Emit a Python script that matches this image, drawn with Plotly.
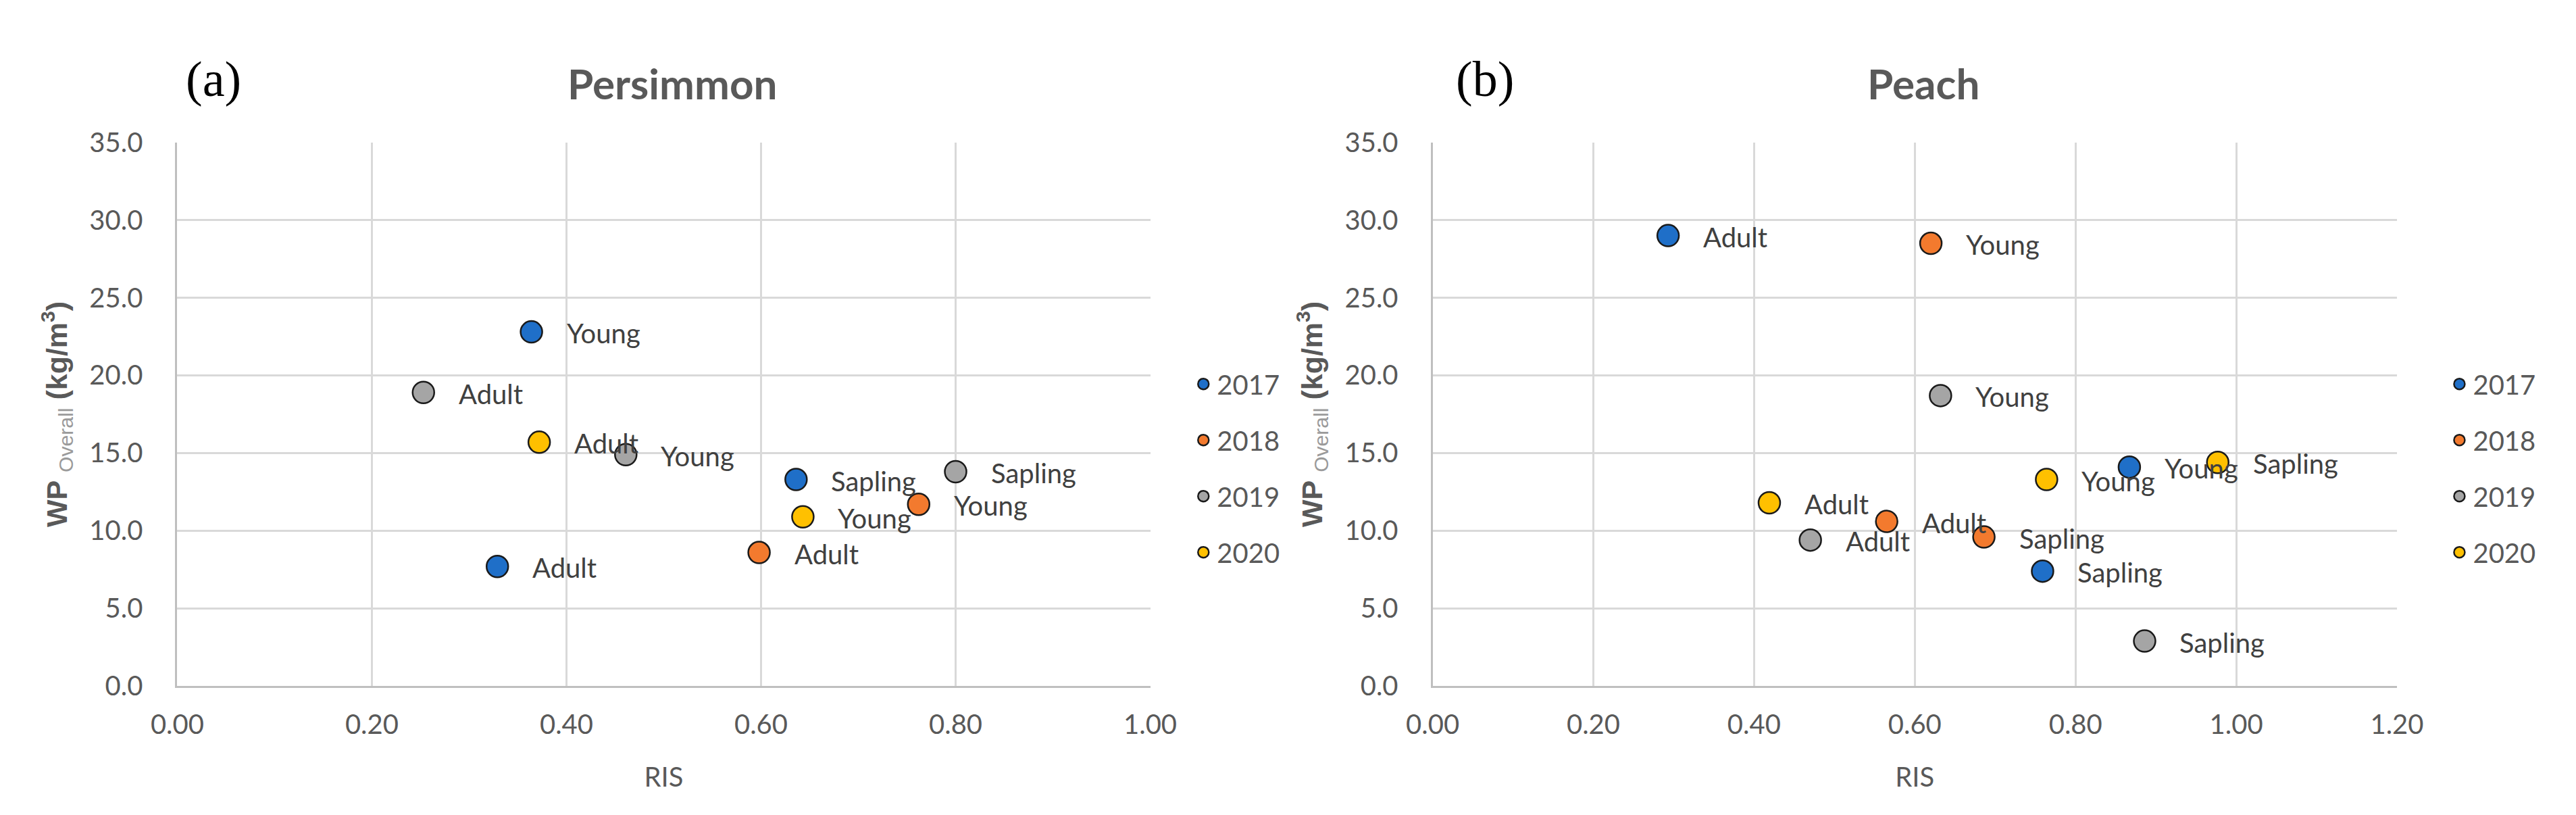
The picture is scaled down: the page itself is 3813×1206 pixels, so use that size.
import plotly.graph_objects as go

# ---------------- data ----------------
years = ["2017", "2018", "2019", "2020"]
year_colors = ["#1F6FC8", "#F37A2E", "#A5A5A5", "#FFC000"]

# Persimmon (panel a)
pers_2017_ris = [0.364, 0.329, 0.636]
pers_2017_wp = [22.8, 7.7, 13.3]
pers_2017_lab = ["Young", "Adult", "Sapling"]
pers_2018_ris = [0.598, 0.762]
pers_2018_wp = [8.6, 11.7]
pers_2018_lab = ["Adult", "Young"]
pers_2019_ris = [0.253, 0.461, 0.800]
pers_2019_wp = [18.9, 14.9, 13.8]
pers_2019_lab = ["Adult", "Young", "Sapling"]
pers_2020_ris = [0.372, 0.643]
pers_2020_wp = [15.7, 10.9]
pers_2020_lab = ["Adult", "Young"]

# Peach (panel b)
peach_2017_ris = [0.293, 0.867, 0.759]
peach_2017_wp = [29.0, 14.1, 7.4]
peach_2017_lab = ["Adult", "Young", "Sapling"]
peach_2018_ris = [0.620, 0.565, 0.686]
peach_2018_wp = [28.5, 10.6, 9.6]
peach_2018_lab = ["Young", "Adult", "Sapling"]
peach_2019_ris = [0.632, 0.470, 0.886]
peach_2019_wp = [18.7, 9.4, 2.9]
peach_2019_lab = ["Young", "Adult", "Sapling"]
peach_2020_ris = [0.419, 0.764, 0.977]
peach_2020_wp = [11.8, 13.3, 14.4]
peach_2020_lab = ["Adult", "Young", "Sapling"]

pers_series = [
    (pers_2017_ris, pers_2017_wp, pers_2017_lab),
    (pers_2018_ris, pers_2018_wp, pers_2018_lab),
    (pers_2019_ris, pers_2019_wp, pers_2019_lab),
    (pers_2020_ris, pers_2020_wp, pers_2020_lab),
]
peach_series = [
    (peach_2017_ris, peach_2017_wp, peach_2017_lab),
    (peach_2018_ris, peach_2018_wp, peach_2018_lab),
    (peach_2019_ris, peach_2019_wp, peach_2019_lab),
    (peach_2020_ris, peach_2020_wp, peach_2020_lab),
]

panel_titles = ["Persimmon", "Peach"]
panel_letters = ["(a)", "(b)"]
x_title = "RIS"
y_title = ("<b>WP</b> <span style='color:#9a9a9a;font-weight:normal'><sub>Overall</sub></span>"
           " <b>(kg/m<sup>3</sup>)</b>")

# ---------------- styling ----------------
W, H = 3813, 1206
FONT = "Lato, Carlito, Calibri, 'Liberation Sans', sans-serif"
TXT = "#595959"
LAB = "#404040"
GRID = "#D9D9D9"
AXL = "#BFBFBF"

fig = go.Figure()

axes = [("x", "y", "legend", pers_series), ("x2", "y2", "legend2", peach_series)]
for xa, ya, lg, series in axes:
    for i, (xs, ys, labs) in enumerate(series):
        fig.add_trace(go.Scatter(
            x=xs, y=ys, mode="markers", name=years[i],
            xaxis=xa, yaxis=ya, legend=lg, legendgroup=lg + years[i],
            marker=dict(size=32, color=year_colors[i],
                        line=dict(color="#1A1A1A", width=2.5)),
            hoverinfo="x+y+name",
        ))
        for xv, yv, lb in zip(xs, ys, labs):
            fig.add_annotation(
                x=xv, y=yv, xref=xa, yref=ya, text=lb, showarrow=False,
                xanchor="left", yanchor="middle", xshift=50, yshift=-2,
                font=dict(family=FONT, size=40, color=LAB),
            )

ydom = [1 - 1023 / H, 1 - 185 / H]
xdom1 = [219 / W, 1690 / W]
xdom2 = [2117 / W, 3575 / W]

common_x = dict(showgrid=True, gridcolor=GRID, gridwidth=3, zeroline=False,
                showline=True, linecolor=AXL, linewidth=3, ticks="",
                dtick=0.2, tick0=0, tickformat=".2f",
                tickfont=dict(family=FONT, size=40, color=TXT),
                ticklabelstandoff=20,
                title=dict(text=x_title, font=dict(family=FONT, size=40, color=TXT),
                           standoff=42))
common_y = dict(showgrid=True, gridcolor=GRID, gridwidth=3, zeroline=False,
                showline=True, linecolor=AXL, linewidth=3, ticks="",
                range=[0, 35], dtick=5, tick0=0, tickformat=".1f",
                tickfont=dict(family=FONT, size=40, color=TXT),
                ticklabelstandoff=40,
                title=dict(text=y_title,
                           font=dict(family="'Liberation Sans', Arial, sans-serif",
                                     size=43, color=TXT),
                           standoff=20))

fig.update_layout(
    width=W, height=H,
    margin=dict(l=0, r=0, t=0, b=0),
    paper_bgcolor="white", plot_bgcolor="white",
    xaxis=dict(domain=xdom1, range=[0, 1.0], anchor="y", **common_x),
    yaxis=dict(domain=ydom, anchor="x", **common_y),
    xaxis2=dict(domain=xdom2, range=[0, 1.2], anchor="y2", **common_x),
    yaxis2=dict(domain=ydom, anchor="x2", **common_y),
    legend=dict(x=1750 / W, xanchor="left", y=1 - 687 / H, yanchor="middle",
                traceorder="grouped", tracegroupgap=28,
                font=dict(family=FONT, size=40, color=TXT),
                bgcolor="rgba(0,0,0,0)", itemsizing="trace"),
    legend2=dict(x=3649 / W, xanchor="left", y=1 - 687 / H, yanchor="middle",
                 traceorder="grouped", tracegroupgap=28,
                 font=dict(family=FONT, size=40, color=TXT),
                 bgcolor="rgba(0,0,0,0)", itemsizing="trace"),
    showlegend=True,
)

# panel titles and letters
title_x = [968 / W, 2859 / W]
letter_x = [274 / W, 2196 / W]
for k in range(2):
    fig.add_annotation(x=title_x[k], y=1 - 94 / H, xref="paper", yref="paper",
                       text="<b>" + panel_titles[k] + "</b>", showarrow=False,
                       xanchor="center", yanchor="middle",
                       font=dict(family=FONT, size=62, color=TXT))
    fig.add_annotation(x=letter_x[k], y=1 - 88 / H, xref="paper", yref="paper",
                       text=panel_letters[k], showarrow=False,
                       xanchor="center", yanchor="middle",
                       font=dict(family="'Liberation Serif', 'Times New Roman', serif",
                                 size=74, color="#000000"))

fig.write_html("out.html")
